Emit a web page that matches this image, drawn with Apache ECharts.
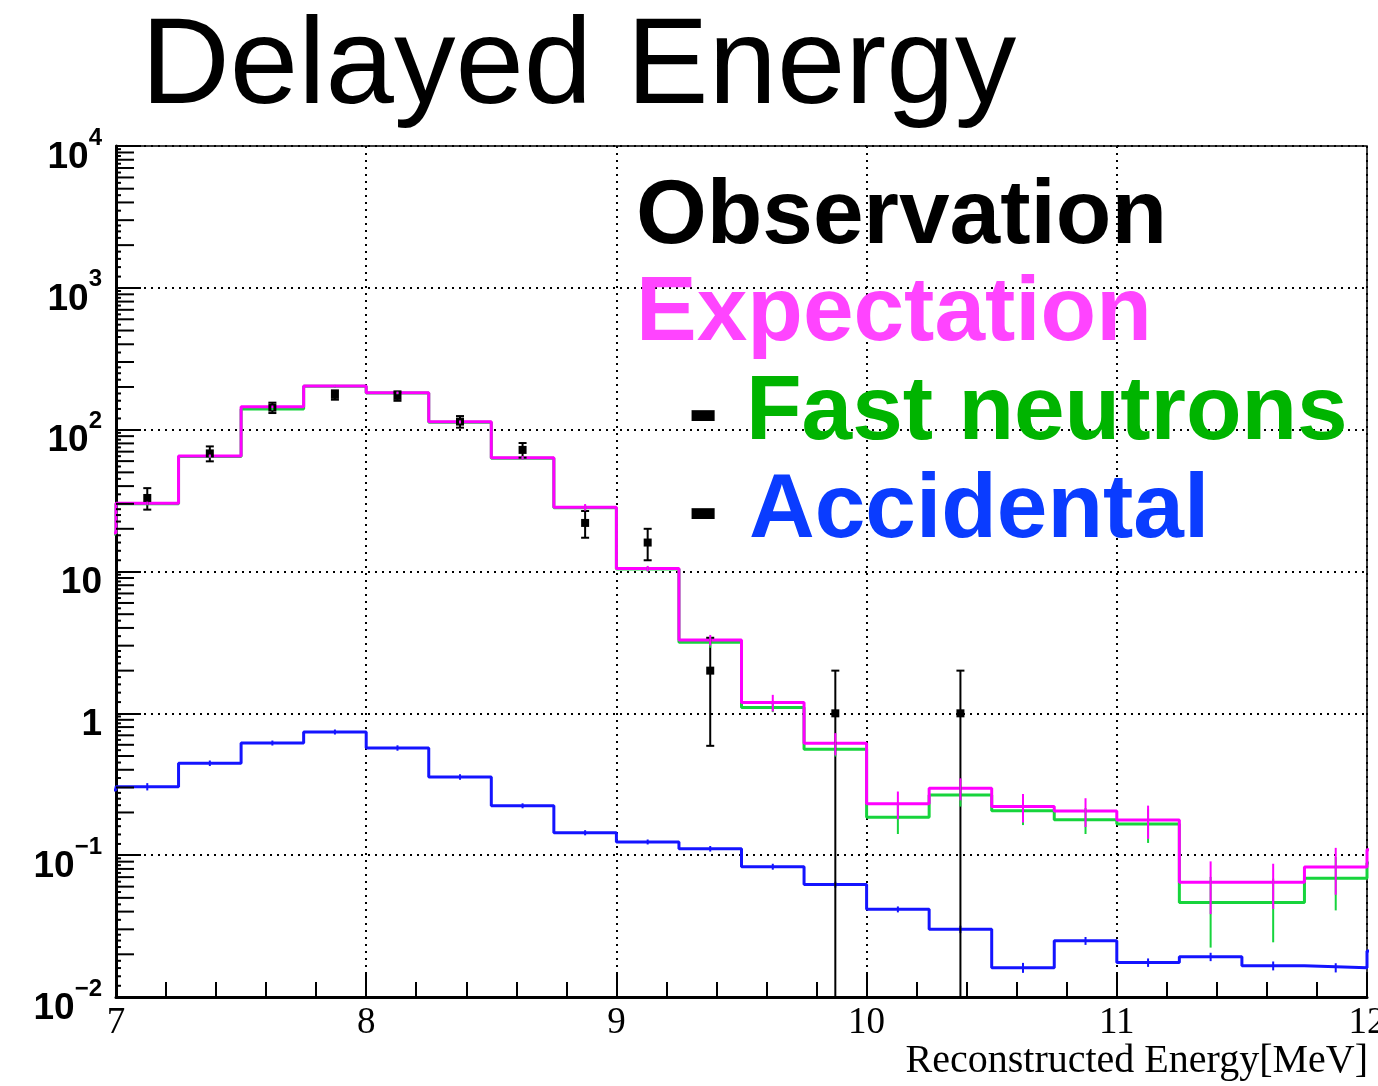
<!DOCTYPE html>
<html>
<head>
<meta charset="utf-8">
<script src="https://cdn.jsdelivr.net/npm/echarts@6/dist/echarts.min.js"></script>
<style>
  html, body { margin: 0; padding: 0; background: #fff; }
  #chart { width: 1378px; height: 1086px; }
</style>
</head>
<body>
<div id="chart"></div>
<script>
// Bin lower edges (MeV), bin width 0.25
const binLow = [7.00, 7.25, 7.50, 7.75, 8.00, 8.25, 8.50, 8.75, 9.00, 9.25,
                9.50, 9.75, 10.00, 10.25, 10.50, 10.75, 11.00, 11.25, 11.50, 11.75];
const binWidth = 0.25;

// Observed counts and their errors
const observed    = [33, 68, 143, 176, 173, 114, 72, 22, 16, 2, 0, 1, 0, 1, 0, 0, 0, 0, 0, 0];
const observedErr = [5.7, 8.2, 12, 13.3, 13.2, 10.7, 8.5, 4.7, 4.0, 1.41, 0, 1, 0, 1, 0, 0, 0, 0, 0, 0];

// Expectation (total)
const expectation    = [30.3, 65.3, 145, 203, 182, 113.5, 63.3, 28.4, 10.5, 3.29,
                        1.19, 0.615, 0.230, 0.296, 0.220, 0.205, 0.177, 0.0644, 0.0644, 0.0826];
const expectationErr = [0.8, 1.5, 3, 4, 3.5, 2.5, 1.8, 1.5, 0.45, 0.28,
                        0.16, 0.11, 0.051, 0.052, 0.050, 0.047, 0.0465, 0.026, 0.0226, 0.030];
const expectationUnder = 18.7, expectationOver = 0.109;

// Fast neutrons
const fastNeutrons    = [30.0, 64.8, 140, 202, 181, 113, 63.0, 28.2, 10.4, 3.17,
                         1.10, 0.558, 0.185, 0.266, 0.206, 0.178, 0.166, 0.0463, 0.0463, 0.0688];
const fastNeutronsErr = [0.8, 1.5, 3, 4, 3.5, 2.5, 1.8, 1.2, 0.4, 0.27,
                         0.08, 0.063, 0.044, 0.046, 0.043, 0.037, 0.044, 0.024, 0.022, 0.028];
const fastUnder = 18.4, fastOver = 0.088;

// Accidental background
const accidental    = [0.304, 0.445, 0.618, 0.739, 0.570, 0.356, 0.223, 0.144, 0.124, 0.111,
                       0.083, 0.062, 0.0415, 0.030, 0.0161, 0.0249, 0.0175, 0.0192, 0.0166, 0.0161];
const accidentalErr = [0.018, 0.02, 0.025, 0.03, 0.025, 0.016, 0.009, 0.006, 0.005, 0.005,
                       0.004, 0.003, 0.002, 0.0018, 0.0013, 0.0016, 0.0012, 0.0013, 0.0012, 0.0012];
const accUnder = 0.288, accOver = 0.0211;

const X_MIN = 7, X_MAX = 12, Y_MIN = 0.01, Y_MAX = 10000;

const COL_OBS = '#000000';
const COL_EXP = '#ff00ff';
const COL_FAST = '#17d43c';
const COL_ACC = '#1414ff';

// Step outline of a histogram, including the under/overflow bins so the edges rise/fall like ROOT
function stepData(vals, under, over) {
  const pts = [[binLow[0] - binWidth, under]];
  vals.forEach((v, i) => pts.push([binLow[i], v]));
  pts.push([binLow[binLow.length - 1] + binWidth, over]);
  pts.push([binLow[binLow.length - 1] + 2 * binWidth, over]);
  return pts;
}
function errData(vals, errs) {
  return vals.map((v, i) => [binLow[i] + binWidth / 2, v - errs[i], v + errs[i]]);
}

function histSeries(name, vals, under, over, color, z) {
  return {
    name, type: 'line', step: 'end', data: stepData(vals, under, over),
    showSymbol: false, symbol: 'none', z, clip: true,
    lineStyle: { color, width: 3 }, animation: false
  };
}
function errSeries(vals, errs, color, z) {
  return {
    type: 'custom', z, clip: true, animation: false,
    data: errData(vals, errs),
    encode: { x: 0, y: [1, 2] },
    renderItem: (params, api) => {
      const x = api.value(0);
      const lo = Math.max(api.value(1), Y_MIN);
      const hi = api.value(2);
      const p1 = api.coord([x, lo]);
      const p2 = api.coord([x, hi]);
      return { type: 'line', shape: { x1: p1[0], y1: p1[1], x2: p2[0], y2: p2[1] },
               style: { stroke: color, lineWidth: 2 } };
    }
  };
}

// Observation points with error bars
const obsData = [];
observed.forEach((n, i) => {
  if (n > 0) obsData.push([binLow[i] + binWidth / 2, n, n - observedErr[i], n + observedErr[i]]);
});

// Log-axis minor ticks (2..9 per decade) and finer ticks between them
const yMinor = [], yFine = [];
for (let k = -2; k <= 3; k++) {
  const d = Math.pow(10, k);
  for (let m = 2; m <= 9; m++) yMinor.push([X_MIN, m * d]);
  [1.2, 1.4, 1.6, 1.8, 2.25, 2.5, 2.75, 3.5, 4.5, 5.5, 6.5, 7.5, 8.5, 9.5].forEach(m => yFine.push([X_MIN, m * d]));
}
function tickSeries(data, len) {
  return {
    type: 'custom', z: 6, silent: true, animation: false, data,
    encode: { x: 0, y: 1 },
    renderItem: (params, api) => {
      const p = api.coord([api.value(0), api.value(1)]);
      return { type: 'line', shape: { x1: p[0], y1: p[1], x2: p[0] + len, y2: p[1] },
               style: { stroke: '#000', lineWidth: 2 } };
    }
  };
}

const dotted = { color: '#000', width: 2, type: [2, 5] };
const legendFont = 'bold 91px "Liberation Sans"';

const chart = echarts.init(document.getElementById('chart'), null, { renderer: 'canvas' });
chart.setOption({
  animation: false,
  backgroundColor: '#fff',
  grid: { left: 116, top: 146, width: 1251, height: 851, containLabel: false, outerBoundsMode: 'none',
          show: true, borderColor: '#000', borderWidth: 1.5 },
  xAxis: {
    type: 'value', min: X_MIN, max: X_MAX, interval: 1,
    axisLine: { show: true, onZero: false, lineStyle: { color: '#000', width: 3 } },
    axisTick: { show: true, inside: true, length: 25, lineStyle: { color: '#000', width: 2 } },
    minorTick: { show: true, splitNumber: 5, length: 15, lineStyle: { color: '#000', width: 2 } },
    splitLine: { show: true, lineStyle: dotted },
    axisLabel: { fontFamily: 'Liberation Serif', fontSize: 37, color: '#000', margin: 8 }
  },
  yAxis: {
    type: 'log', logBase: 10, min: Y_MIN, max: Y_MAX, splitNumber: 6,
    axisLine: { show: true, lineStyle: { color: '#000', width: 3 } },
    axisTick: { show: true, inside: true, length: 25, lineStyle: { color: '#000', width: 2 } },
    minorTick: { show: false },
    splitLine: { show: true, lineStyle: dotted },
    axisLabel: {
      margin: 14, color: '#000', padding: [10, 0, 0, 0],
      formatter: v => {
        const e = Math.round(Math.log10(v));
        if (e === 0) return '{b|1}';
        if (e === 1) return '{b|10}';
        return '{b|10}{s|' + (e < 0 ? '\u2212' + (-e) : e) + '}';
      },
      rich: {
        b: { fontFamily: 'Liberation Sans', fontWeight: 'bold', fontSize: 37, lineHeight: 50,
             verticalAlign: 'bottom', color: '#000' },
        s: { fontFamily: 'Liberation Sans', fontWeight: 'bold', fontSize: 24, lineHeight: 24,
             verticalAlign: 'top', color: '#000' }
      }
    }
  },
  graphic: [
    { type: 'text', x: 141, y: 69, z: 20,
      style: { text: 'Delayed Energy', font: '123px "Liberation Sans"', fill: '#000',
               align: 'left', verticalAlign: 'middle' } },
    { type: 'text', x: 636, y: 218, z: 20,
      style: { text: 'Observation', font: legendFont, fill: '#000',
               align: 'left', verticalAlign: 'middle' } },
    { type: 'text', x: 636, y: 315, z: 20,
      style: { text: 'Expectation', font: legendFont, fill: '#ff44ff',
               align: 'left', verticalAlign: 'middle' } },
    { type: 'text', x: 688, y: 414, z: 20,
      style: { text: '-', font: legendFont, fill: '#000',
               align: 'left', verticalAlign: 'middle' } },
    { type: 'text', x: 746, y: 414, z: 20,
      style: { text: 'Fast neutrons', font: legendFont, fill: '#00b400',
               align: 'left', verticalAlign: 'middle' } },
    { type: 'text', x: 688, y: 512, z: 20,
      style: { text: '-', font: legendFont, fill: '#000',
               align: 'left', verticalAlign: 'middle' } },
    { type: 'text', x: 749, y: 512, z: 20,
      style: { text: 'Accidental', font: legendFont, fill: '#0a3cff',
               align: 'left', verticalAlign: 'middle' } },
    // x-axis title
    { type: 'text', x: 1368, y: 1061, z: 20,
      style: { text: 'Reconstructed Energy[MeV]', font: '40px "Liberation Serif"', fill: '#000',
               align: 'right', verticalAlign: 'middle' } }
  ],
  series: [
    tickSeries(yMinor, 18),
    tickSeries(yFine, 5),
    histSeries('Accidental', accidental, accUnder, accOver, COL_ACC, 2),
    errSeries(accidental, accidentalErr, COL_ACC, 2),
    histSeries('Fast neutrons', fastNeutrons, fastUnder, fastOver, COL_FAST, 3),
    histSeries('Expectation', expectation, expectationUnder, expectationOver, COL_EXP, 4),
    {
      name: 'Observation', type: 'custom', z: 5, clip: true, animation: false,
      data: obsData, encode: { x: 0, y: [1, 2, 3] },
      renderItem: (params, api) => {
        const x = api.value(0);
        const pv = api.coord([x, api.value(1)]);
        const lo = api.value(2);
        const pl = api.coord([x, Math.max(lo, Y_MIN)]);
        const ph = api.coord([x, api.value(3)]);
        const cap = 4;
        const st = { stroke: COL_OBS, lineWidth: 2 };
        const children = [
          { type: 'line', shape: { x1: pv[0], y1: pl[1], x2: pv[0], y2: ph[1] }, style: st },
          { type: 'line', shape: { x1: pv[0] - cap, y1: ph[1], x2: pv[0] + cap, y2: ph[1] }, style: st },
          { type: 'rect', shape: { x: pv[0] - 4, y: pv[1] - 4, width: 8, height: 8 }, style: { fill: COL_OBS } }
        ];
        if (lo > Y_MIN) {
          children.push({ type: 'line', shape: { x1: pv[0] - cap, y1: pl[1], x2: pv[0] + cap, y2: pl[1] }, style: st });
        }
        return { type: 'group', children };
      }
    },
    errSeries(fastNeutrons, fastNeutronsErr, COL_FAST, 6),
    errSeries(expectation, expectationErr, COL_EXP, 7)
  ]
});
</script>
</body>
</html>
